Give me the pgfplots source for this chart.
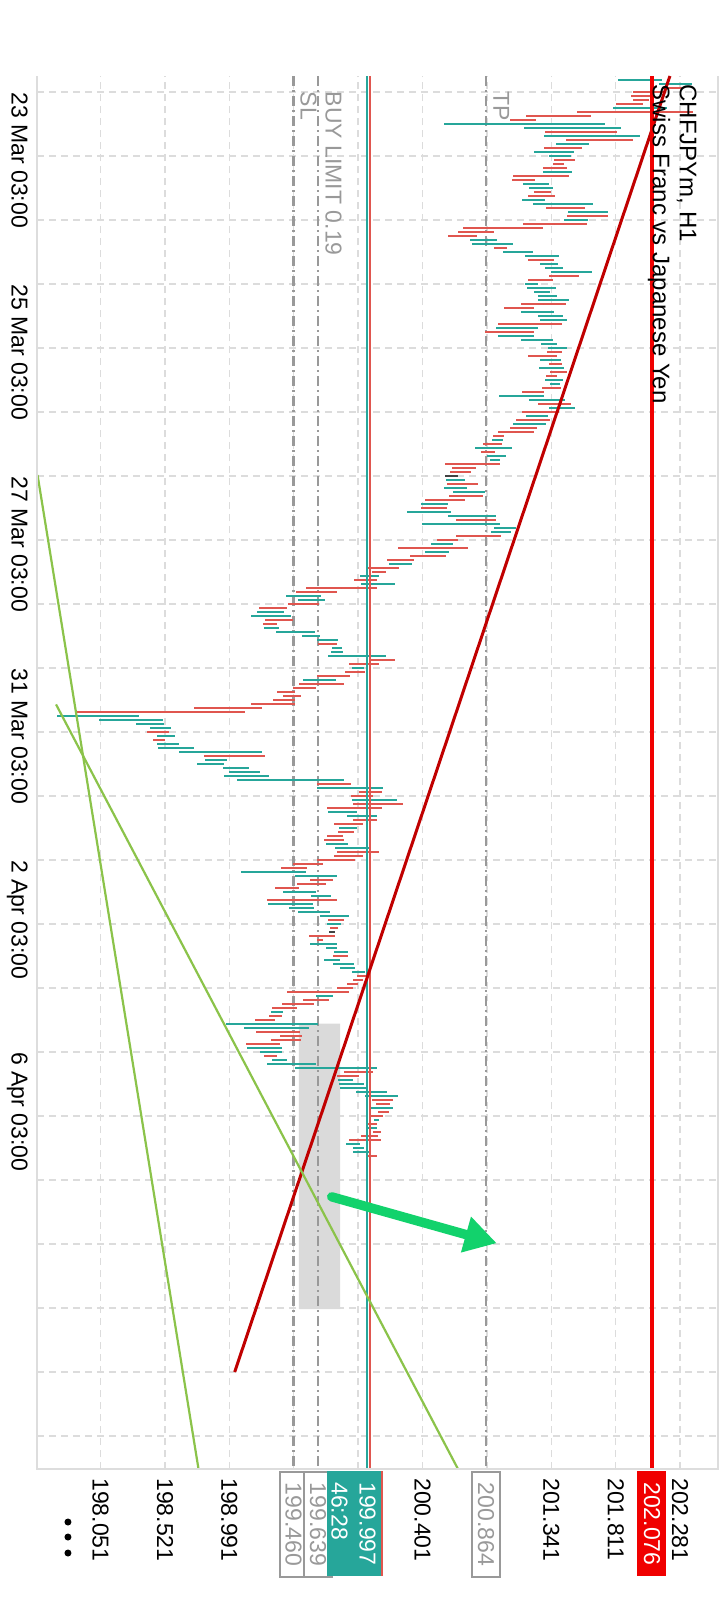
\documentclass[border=0pt]{standalone}
\usepackage{pgfplots}
\pgfplotsset{compat=1.18}
\usepackage{pgfplotstable}
\usepackage{fontspec}
\setmainfont{Liberation Sans}
\usetikzlibrary{arrows.meta}
\definecolor{bull}{HTML}{26A69A}
\definecolor{bear}{HTML}{E0564F}
\definecolor{doji}{HTML}{424242}
\definecolor{gridc}{HTML}{DCDCDC}
\definecolor{framec}{HTML}{DDDDDD}
\definecolor{lvl}{HTML}{999999}
\definecolor{trend}{HTML}{C00000}
\definecolor{fib}{HTML}{8BC34A}
\definecolor{arrowg}{HTML}{12D26C}
\definecolor{zone}{HTML}{DADADA}
\definecolor{alert}{HTML}{F00000}

\pgfplotstableread{
t lo hi
0 201.828 202.150
1 202.128 202.369
7 201.792 202.186
11 200.558 201.734
12 201.142 201.850
14 201.288 201.989
16 201.376 201.617
18 201.215 201.507
19 201.325 201.485
23 201.281 201.493
26 201.135 201.325
27 201.179 201.354
30 201.128 201.296
31 201.208 201.646
33 201.463 201.755
35 201.434 201.609
40 200.748 200.945
41 200.763 201.062
43 200.989 201.208
44 201.150 201.398
46 201.259 201.390
47 201.296 201.427
48 201.339 201.639
51 201.150 201.244
52 201.164 201.376
53 201.215 201.332
54 201.244 201.383
55 201.244 201.471
58 201.120 201.361
59 201.244 201.427
60 201.259 201.456
62 200.938 201.244
64 200.952 201.215
65 201.120 201.354
66 201.266 201.383
67 201.317 201.456
70 201.259 201.412
72 201.252 201.434
75 201.296 201.427
76 201.332 201.405
79 200.960 201.288
80 201.179 201.442
82 201.325 201.515
84 201.157 201.317
86 201.062 201.303
90 200.909 200.989
92 200.785 201.055
94 200.872 201.011
95 200.894 200.967
100 200.573 200.712
102 200.558 200.726
103 200.624 200.858
106 200.390 200.587
108 200.288 200.609
109 200.587 200.938
111 200.398 200.967
112 200.923 201.084
113 200.901 201.047
116 200.463 200.624
118 200.420 200.595
121 200.157 200.325
124 199.945 200.084
126 199.952 200.201
129 199.405 199.660
130 199.492 199.690
133 199.193 199.390
134 199.149 199.441
137 199.244 199.354
138 199.332 199.617
139 199.522 199.653
140 199.631 199.784
142 199.741 199.814
143 199.733 199.821
144 199.711 200.135
147 199.887 199.974
150 199.529 199.770
159 197.733 198.332
160 198.040 198.507
161 198.310 198.514
162 198.412 198.565
164 198.463 198.595
166 198.463 198.624
167 198.470 198.733
168 198.624 199.230
170 198.814 198.974
171 198.755 198.952
172 198.945 199.135
173 198.989 199.215
174 198.952 199.281
175 199.047 199.828
177 199.631 200.113
180 199.887 200.215
183 199.711 199.923
184 199.850 200.069
187 199.792 199.923
191 199.697 199.857
192 199.763 200.011
198 199.076 199.551
199 199.471 199.777
203 199.383 199.624
204 199.587 199.733
206 199.273 199.602
207 199.427 199.609
208 199.492 199.726
209 199.653 199.865
211 199.704 199.806
216 199.580 199.777
217 199.697 199.777
218 199.755 199.857
220 199.682 199.799
221 199.748 199.901
222 199.799 199.909
223 199.887 199.982
229 199.624 199.748
233 199.295 199.383
236 198.967 199.638
237 199.098 199.573
242 199.120 199.376
243 199.215 199.376
245 199.303 199.412
246 199.266 199.624
247 199.471 200.069
250 199.784 199.894
251 199.792 199.974
252 199.799 200.003
253 199.916 200.142
254 199.982 200.222
257 200.025 200.186
260 200.047 200.084
262 199.989 200.069
266 199.843 199.945
267 199.894 199.974
268 199.894 200.011
}\bulltab

\pgfplotstableread{
t lo hi
2 202.150 202.303
3 201.938 202.157
4 201.923 202.084
5 201.938 202.055
6 201.814 202.011
8 201.529 202.376
9 201.157 201.631
10 201.040 201.230
13 201.296 201.821
15 201.449 201.938
17 201.288 201.566
20 201.361 201.515
21 201.354 201.434
22 201.281 201.456
24 201.062 201.471
25 201.055 201.223
28 201.215 201.339
29 201.171 201.369
32 201.303 201.588
34 201.456 201.755
36 201.135 201.602
37 200.697 201.281
38 200.660 200.923
39 200.587 200.799
42 200.923 201.018
45 201.171 201.361
49 201.325 201.544
50 201.171 201.354
56 201.120 201.449
57 200.996 201.215
61 200.952 201.420
63 200.858 201.215
68 201.310 201.420
69 201.171 201.383
71 201.325 201.420
73 201.332 201.456
74 201.303 201.383
77 201.274 201.412
78 201.128 201.288
81 201.244 201.485
83 201.128 201.398
85 201.084 201.332
87 201.040 201.237
88 200.952 201.215
89 200.916 200.996
91 200.843 200.982
93 200.828 200.931
96 200.566 200.967
97 200.617 200.792
98 200.602 200.755
101 200.580 200.806
104 200.595 200.843
105 200.420 200.712
107 200.390 200.580
110 200.646 200.938
114 200.646 200.974
115 200.507 200.660
117 200.222 200.733
119 200.310 200.573
120 200.142 200.339
122 199.996 200.230
123 200.033 200.135
125 199.901 200.069
127 199.551 200.069
128 199.478 199.777
131 199.419 199.646
132 199.208 199.412
135 199.252 199.456
136 199.237 199.339
141 199.638 199.777
145 200.018 200.201
146 199.865 200.084
148 199.836 199.982
149 199.631 199.872
151 199.500 199.828
152 199.456 199.624
153 199.339 199.471
154 199.383 199.514
155 199.310 199.471
156 199.149 199.471
157 198.733 199.230
158 197.872 199.106
163 198.390 198.551
165 198.434 198.522
169 198.806 199.252
176 199.631 199.879
178 199.938 200.106
179 199.879 200.040
181 199.894 200.259
182 199.704 200.106
185 199.894 200.069
186 199.755 199.967
188 199.784 199.901
189 199.704 199.821
190 199.682 199.828
193 199.777 200.084
194 199.755 199.967
195 199.631 199.909
196 199.456 199.675
197 199.368 199.558
200 199.580 199.748
201 199.485 199.697
202 199.325 199.500
205 199.266 199.777
210 199.711 199.828
212 199.726 199.784
214 199.573 199.763
215 199.631 199.675
219 199.748 199.857
224 199.923 200.011
225 199.894 199.967
226 199.850 199.930
227 199.777 199.894
228 199.412 199.865
230 199.529 199.719
231 199.376 199.609
232 199.303 199.485
234 199.281 199.376
235 199.179 199.325
238 199.186 199.507
239 199.361 199.522
240 199.295 199.514
241 199.113 199.361
244 199.244 199.339
248 199.828 200.040
249 199.777 199.938
255 200.033 200.186
256 200.062 200.164
258 200.076 200.157
259 200.018 200.113
261 199.989 200.069
263 200.040 200.098
264 199.952 200.076
265 199.865 200.098
269 200.003 200.069
}\beartab

\pgfplotstableread{
t lo hi
99 200.566 200.660
213 199.719 199.763
}\dojitab

\pgfplotsset{
  candle/.style={only marks, mark=*, mark size=0pt, mark options={draw=none, fill=none},
    error bars/.cd, x dir=both, x explicit, error mark=none,
    error bar style={line width=1.4pt, draw=#1}},
}

\begin{document}
\fontsize{11.5}{14.5}\selectfont
\begin{tikzpicture}[font=\fontsize{11.5}{14.5}\selectfont]
\path[use as bounding box] (-18.5pt,38pt) rectangle (341.5pt,-762pt);
\begin{axis}[
  at={(0pt,0pt)}, anchor=north west,
  scale only axis, width=340.5pt, height=696.5pt,
  xmin=197.587, xmax=202.558, ymin=-347.25, ymax=1,
  clip=false,
  axis line style={draw=none},
  major tick length=0pt,
  xtick={198.051,198.521,198.991,199.461,199.931,200.401,200.871,201.341,201.811,202.281},
  xticklabels={198.051,198.521,198.991,,,200.401,,201.341,201.811,202.281},
  ytick={-3,-19,-35,-51,-67,-83,-99,-115,-131,-147,-163,-179,-195,-211,-227,-243,-259,-275,-291,-307,-323,-339},
  yticklabels={23 Mar 03:00,,,25 Mar 03:00,,,27 Mar 03:00,,,31 Mar 03:00,,,2 Apr 03:00,,,6 Apr 03:00,,,,,,},
  grid=major,
  major grid style={gridc, line width=0.75pt, dash pattern=on 3.5pt off 2.5pt},
  xticklabel style={rotate=-90, anchor=west, inner xsep=4.5pt, inner ysep=0pt, text=black},
  yticklabel style={rotate=-90, anchor=north west, inner xsep=0pt, inner ysep=4.5pt, text=black},
]
% pending-order zone
\addplot[fill=zone, draw=none] coordinates {(199.499,-235.9) (199.799,-235.9) (199.799,-307.25) (199.499,-307.25) (199.499,-235.9)};
% order levels
\addplot[lvl, line width=1.3pt, dash pattern=on 5pt off 2pt on 1pt off 2pt] coordinates {(200.864,1) (200.864,-347.25)};
\addplot[lvl, line width=1.3pt, dash pattern=on 5pt off 2pt on 1pt off 2pt] coordinates {(199.639,1) (199.639,-347.25)};
\addplot[lvl, line width=1.3pt, dash pattern=on 5pt off 2pt on 1pt off 2pt] coordinates {(199.460,1) (199.460,-347.25)};
% candles (high-low range per hourly bar)
\addplot[candle=bull]
  table[x expr={(\thisrow{lo}+\thisrow{hi})/2}, y expr={-\thisrow{t}}, x error expr={(\thisrow{hi}-\thisrow{lo})/2}] {\bulltab};
\addplot[candle=bear]
  table[x expr={(\thisrow{lo}+\thisrow{hi})/2}, y expr={-\thisrow{t}}, x error expr={(\thisrow{hi}-\thisrow{lo})/2}] {\beartab};
\addplot[candle=doji]
  table[x expr={(\thisrow{lo}+\thisrow{hi})/2}, y expr={-\thisrow{t}}, x error expr={(\thisrow{hi}-\thisrow{lo})/2}] {\dojitab};
% bid / ask
\addplot[bull, line width=1pt] coordinates {(199.997,1) (199.997,-347.25)};
\addplot[bear, line width=1pt] coordinates {(200.018,1) (200.018,-347.25)};
% trend lines
\addplot[trend, line width=1.5pt] coordinates {(202.207,1) (199.030,-323)};
\addplot[fib, line width=1.1pt] coordinates {(197.591,-98.75) (198.766,-347.25)};
\addplot[fib, line width=1.1pt] coordinates {(197.726,-156.1) (200.660,-347.25)};
% alert level
\addplot[alert, line width=2pt] coordinates {(202.076,1) (202.076,-347.25)};
% arrow
\addplot[arrowg, line width=4.7pt, line cap=round, -{Triangle[length=16pt,width=17.5pt]}] coordinates {(199.738,-279.2) (200.943,-290.8)};
% frame
\draw[framec, line width=1.1pt] (rel axis cs:0,1) -- (rel axis cs:0,0) -- (rel axis cs:1,0) -- (rel axis cs:1,1);
% level texts
\node[rotate=-90, anchor=south west, inner sep=0pt, text=lvl] at (axis cs:200.916,-2.75) {TP};
\node[rotate=-90, anchor=south west, inner sep=0pt, text=lvl] at (axis cs:199.689,-2.9) {BUY LIMIT 0.19};
\node[rotate=-90, anchor=south west, inner sep=0pt, text=lvl] at (axis cs:199.507,-2.9) {SL};
% title
\node[rotate=-90, anchor=north west, align=left, inner sep=0pt, font=\fontsize{12}{13.5}\selectfont] at (axis cs:202.405,-1) {CHFJPYm, H1\\Swiss Franc vs Japanese Yen};
% price boxes
\node[rotate=-90, anchor=west, draw=lvl, line width=1pt, fill=white, text=lvl, minimum width=52.5pt, minimum height=14pt, inner sep=0pt] at (axis cs:199.460,-347.75) {199.460};
\node[rotate=-90, anchor=west, draw=lvl, line width=1pt, fill=white, text=lvl, minimum width=52.5pt, minimum height=14pt, inner sep=0pt] at (axis cs:199.639,-347.75) {199.639};
\node[rotate=-90, anchor=west, draw=lvl, line width=1pt, fill=white, text=lvl, minimum width=52.5pt, minimum height=14pt, inner sep=0pt] at (axis cs:200.864,-347.75) {200.864};
\node[rotate=-90, anchor=north west, fill=bull, text=white, align=left, minimum width=52.5pt, minimum height=27pt, inner sep=0pt, font=\fontsize{11.5}{14}\selectfont] at (axis cs:200.098,-347.75) {199.997\\46:28};
\fill[bear] (axis cs:200.098,-347.75) rectangle (axis cs:200.116,-374);
\node[rotate=-90, anchor=west, fill=alert, text=white, minimum width=52.5pt, minimum height=14.5pt, inner sep=0pt] at (axis cs:202.076,-347.75) {202.076};
% menu dots
\fill[black] (axis cs:197.813,-360.5) circle[radius=1.75pt];
\fill[black] (axis cs:197.813,-364.25) circle[radius=1.75pt];
\fill[black] (axis cs:197.813,-368.25) circle[radius=1.75pt];
\end{axis}
\end{tikzpicture}
\end{document}
